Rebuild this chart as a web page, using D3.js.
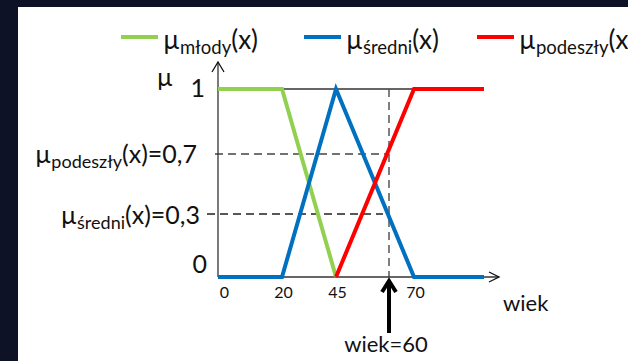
<!DOCTYPE html>
<html>
<head>
<meta charset="utf-8">
<script src="https://cdn.jsdelivr.net/npm/d3@7"></script>
<style>
  html, body { margin: 0; padding: 0; background: #0d1226; }
  svg { display: block; }
  text { font-family: Lato, "Open Sans", sans-serif; fill: #111; }
</style>
</head>
<body>
<svg id="chart" width="628" height="361"></svg>
<script>
// Embedded data (schematic chart, axes are not to scale)
const seriesNames = ["młody", "średni", "podeszły"];
const seriesColors = ["#92d050", "#0070c0", "#ff0000"];
const mlody = [[0, 1], [20, 1], [45, 0]];
const sredni = [[0, 0], [20, 0], [45, 1], [70, 0], [90, 0]];
const podeszly = [[45, 0], [70, 1], [90, 1]];
const xTicks = [0, 20, 45, 70];
const wiek = 60;
const muPodeszly = 0.7;
const muSredni = 0.3;

const svg = d3.select('#chart');

// white slide area
svg.append('rect').attr('x', 18).attr('y', 7).attr('width', 610).attr('height', 354).attr('fill', '#fff');

// the drawing is hand placed, so scales are piecewise
const x = d3.scaleLinear()
    .domain([0, 20, 45, 60, 70, 90])
    .range([218, 282, 336, 389, 414, 484]);
const y = d3.scaleLinear()
    .domain([0, 0.3, 0.7, 1])
    .range([277, 214, 154, 89]);

const axisColor = '#333';

// line at mu = 1
svg.append('line')
    .attr('x1', x(0)).attr('x2', x(70))
    .attr('y1', y(1)).attr('y2', y(1))
    .attr('stroke', axisColor).attr('stroke-width', 1.3);

// dashed helper lines
svg.append('line')
    .attr('x1', x(wiek)).attr('x2', x(wiek))
    .attr('y1', y(1)).attr('y2', y(0))
    .attr('stroke', '#555').attr('stroke-width', 1.5)
    .attr('stroke-dasharray', '8,5');
svg.append('line')
    .attr('x1', x(0) - 3).attr('x2', x(wiek))
    .attr('y1', y(muPodeszly)).attr('y2', y(muPodeszly))
    .attr('stroke', '#444').attr('stroke-width', 1.5)
    .attr('stroke-dasharray', '8,5');
svg.append('line')
    .attr('x1', x(0) - 11).attr('x2', x(wiek) - 6)
    .attr('y1', y(muSredni)).attr('y2', y(muSredni))
    .attr('stroke', '#222').attr('stroke-width', 1.5)
    .attr('stroke-dasharray', '8,5');

// axes with open arrow heads
svg.append('line')
    .attr('x1', x(0)).attr('x2', 499)
    .attr('y1', y(0)).attr('y2', y(0))
    .attr('stroke', axisColor).attr('stroke-width', 1.3);
svg.append('path')
    .attr('d', `M${499 - 10},${y(0) - 5}L499,${y(0)}L${499 - 10},${y(0) + 5}`)
    .attr('fill', 'none').attr('stroke', '#111').attr('stroke-width', 1.3);
svg.append('line')
    .attr('x1', x(0)).attr('x2', x(0))
    .attr('y1', y(0)).attr('y2', 62)
    .attr('stroke', axisColor).attr('stroke-width', 1.3);
svg.append('path')
    .attr('d', `M${x(0) - 6},72L${x(0)},62L${x(0) + 6},72`)
    .attr('fill', 'none').attr('stroke', '#111').attr('stroke-width', 1.3);

// membership functions
const line = d3.line().x(d => x(d[0])).y(d => y(d[1]));
[mlody, sredni, podeszly].forEach((s, i) => {
    svg.append('path')
        .attr('d', line(s))
        .attr('fill', 'none')
        .attr('stroke', seriesColors[i])
        .attr('stroke-width', 4)
        .attr('stroke-linejoin', 'miter');
});

// x tick labels
const xAxis = svg.append('g')
    .attr('transform', `translate(0,${y(0)})`)
    .call(d3.axisBottom(x).tickValues(xTicks).tickSize(0).tickPadding(10).tickFormat(d3.format('d')));
xAxis.select('.domain').remove();
xAxis.selectAll('text')
    .attr('font-size', 16)
    .attr('font-family', 'Lato, sans-serif')
    .attr('fill', '#111')
    .attr('dx', d => d === 0 ? 6 : 1);

svg.append('text').attr('x', 503).attr('y', 311).attr('font-size', 22).text('wiek');

// y labels
svg.append('text').attr('x', 173).attr('y', 86).attr('font-size', 25).attr('text-anchor', 'end').text('µ');
svg.append('text').attr('x', 205).attr('y', y(1) + 8).attr('font-size', 25).attr('text-anchor', 'end').text('1');
svg.append('text').attr('x', 207).attr('y', y(0) - 4).attr('font-size', 25).attr('text-anchor', 'end').text('0');

// mu label helper: mu + subscript + rest
function muLabel(g, name, rest, big, small) {
    const t = g.append('text').attr('font-size', big);
    t.append('tspan').text('µ');
    t.append('tspan').attr('font-size', small).attr('dy', 5).text(name);
    t.append('tspan').attr('dy', -5).text(rest);
    return t;
}

muLabel(svg, 'podeszły', `(x)=${String(muPodeszly).replace('.', ',')}`, 25, 18)
    .attr('x', 197).attr('y', y(muPodeszly) + 9).attr('text-anchor', 'end');
muLabel(svg, 'średni', `(x)=${String(muSredni).replace('.', ',')}`, 25, 18)
    .attr('x', 200).attr('y', y(muSredni) + 10).attr('text-anchor', 'end');

// legend
const legendX = [121, 304, 477];
seriesNames.forEach((n, i) => {
    svg.append('line')
        .attr('x1', legendX[i]).attr('x2', legendX[i] + 37)
        .attr('y1', 37).attr('y2', 37)
        .attr('stroke', seriesColors[i]).attr('stroke-width', 4);
    muLabel(svg, n, '(x)', 26, 18.5).attr('x', legendX[i] + 42).attr('y', 49);
});

// arrow pointing at wiek = 60
svg.append('line')
    .attr('x1', x(wiek)).attr('x2', x(wiek))
    .attr('y1', 333).attr('y2', 281)
    .attr('stroke', '#000').attr('stroke-width', 4);
svg.append('path')
    .attr('d', `M${x(wiek) - 7},292L${x(wiek)},281L${x(wiek) + 7},292`)
    .attr('fill', 'none').attr('stroke', '#000').attr('stroke-width', 4);
svg.append('text').attr('x', x(wiek) - 3).attr('y', 352).attr('font-size', 22)
    .attr('text-anchor', 'middle').text(`wiek=${wiek}`);
</script>
</body>
</html>
